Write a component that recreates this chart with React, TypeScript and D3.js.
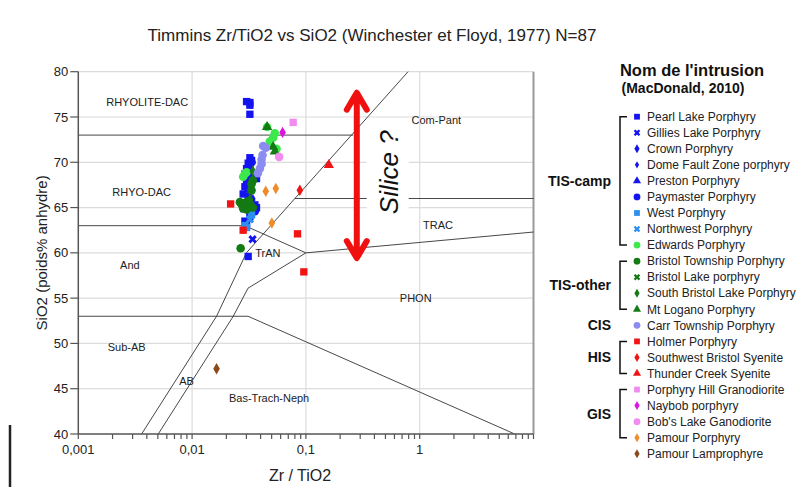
import * as d3 from 'd3';

const W = 807;
const H = 487;
const FONT = 'Liberation Sans, Arial, sans-serif';

// axis
const xDomain: [number, number] = [0.001, 10];
const yDomain: [number, number] = [40, 80];
const xTickLabels = ['0,001', '0,01', '0,1', '1'];
const xTickValues = [0.001, 0.01, 0.1, 1];
const yTickValues = [40, 45, 50, 55, 60, 65, 70, 75, 80];
const xGridValues = [0.01, 0.1, 1];

// Winchester & Floyd field boundaries (Zr/TiO2, SiO2)
const lineRhyolite: [number, number][] = [[0.001, 73], [0.26, 73]];
const lineMain: [number, number][] = [[0.79, 80], [0.03, 60], [0.0164, 53], [0.0036, 40]];
const lineTrac: [number, number][] = [[0.08, 66], [10, 66]];
const lineAndesite: [number, number][] = [[0.001, 63], [0.029, 63], [0.1, 60], [10, 62.3]];
const lineTrAN: [number, number][] = [[0.1, 60], [0.031, 56.1], [0.023, 53], [0.00504, 40]];
const lineBasalt: [number, number][] = [[0.001, 53], [0.031, 53], [6.84, 40]];
const boundaries = [lineRhyolite, lineMain, lineTrac, lineAndesite, lineTrAN, lineBasalt];

const fieldLabels: [number, number, string][] = [
  [0.00403, 76.6, 'RHYOLITE-DAC'],
  [0.0036, 66.7, 'RHYO-DAC'],
  [0.00284, 58.6, 'And'],
  [0.00266, 49.6, 'Sub-AB'],
  [0.00895, 45.8, 'AB'],
  [0.0475, 44.0, 'Bas-Trach-Neph'],
  [0.923, 55.0, 'PHON'],
  [0.0463, 60.0, 'TrAN'],
  [1.45, 63.1, 'TRAC'],
  [1.4, 74.6, 'Com-Pant'],
];

// samples
const pearlLake: [number, number][] = [
  [0.0301, 76.7], [0.0322, 76.6], [0.0322, 76.3], [0.0322, 75.3],
  [0.0322, 70.5], [0.0333, 70.2], [0.0311, 69.9], [0.0322, 69.6], [0.0301, 69.3],
  [0.0311, 69.0], [0.0291, 68.7], [0.0333, 68.5], [0.0368, 68.2], [0.0301, 68.0],
  [0.0322, 67.6], [0.0291, 67.3], [0.0281, 66.5], [0.0311, 66.2], [0.0356, 65.3],
  [0.0368, 65.0], [0.0322, 64.0], [0.0291, 63.5], [0.0301, 63.1], [0.0311, 59.6],
];
const gilliesLake: [number, number][] = [[0.034, 61.5], [0.0333, 65.6]];
const crown: [number, number][] = [[0.0333, 67.9], [0.0301, 65.0], [0.0322, 66.8]];
const domeFault: [number, number][] = [[0.0311, 68.3], [0.0342, 66.0]];
const preston: [number, number][] = [[0.0322, 69.4], [0.0291, 64.8]];
const paymaster: [number, number][] = [[0.0333, 70.0], [0.0311, 67.1], [0.0356, 64.6]];
const westPorph: [number, number][] = [[0.0291, 63.0], [0.0301, 62.8], [0.0333, 64.2]];
const northwest: [number, number][] = [[0.0322, 63.7]];
const edwards: [number, number][] = [
  [0.0533, 73.2], [0.0515, 72.7], [0.0482, 72.3], [0.0456, 73.9], [0.0552, 71.5],
  [0.0291, 68.7], [0.0281, 68.4], [0.0301, 68.9],
];
const bristolTownship: [number, number][] = [
  [0.0263, 65.6], [0.0274, 65.3], [0.0291, 65.5], [0.0301, 65.2], [0.0311, 65.7],
  [0.0322, 65.4], [0.0281, 64.9], [0.0301, 64.8], [0.0342, 65.0], [0.0333, 66.9],
  [0.0342, 68.0], [0.0333, 67.6], [0.0267, 60.5],
];
const bristolLake: [number, number][] = [[0.0311, 65.0]];
const southBristol: [number, number][] = [[0.0342, 69.0], [0.0322, 65.9]];
const mtLogano: [number, number][] = [[0.0456, 73.9], [0.0533, 71.2], [0.0515, 71.7]];
const carrTownship: [number, number][] = [
  [0.0421, 71.8], [0.0444, 71.6], [0.0416, 70.8], [0.0408, 70.3], [0.0408, 69.8],
  [0.0394, 69.3], [0.0378, 68.8],
];
const holmer: [number, number][] = [[0.0218, 65.4], [0.0281, 62.5], [0.0844, 62.1], [0.0959, 57.9]];
const swBristol: [number, number][] = [[0.0885, 66.9]];
const thunderCreek: [number, number][] = [[0.159, 69.7]];
const porphyryHill: [number, number][] = [[0.0773, 74.4]];
const naybob: [number, number][] = [[0.0624, 73.3]];
const bobsLake: [number, number][] = [[0.0582, 70.6]];
const pamourPorph: [number, number][] = [[0.0444, 66.8], [0.0544, 67.1], [0.0502, 63.3]];
const pamourLamp: [number, number][] = [[0.0164, 47.2]];

type Shape = 'square' | 'x' | 'diamond' | 'star' | 'triangle' | 'circle';
interface Series {
  name: string;
  color: string;
  shape: Shape;
  points: [number, number][];
}

const series: Series[] = [
  { name: 'Pearl Lake Porphyry', color: '#1414f0', shape: 'square', points: pearlLake },
  { name: 'Gillies Lake Porphyry', color: '#1414f0', shape: 'x', points: gilliesLake },
  { name: 'Crown Porphyry', color: '#1414f0', shape: 'diamond', points: crown },
  { name: 'Dome Fault Zone porphyry', color: '#1414f0', shape: 'star', points: domeFault },
  { name: 'Preston Porphyry', color: '#1414f0', shape: 'triangle', points: preston },
  { name: 'Paymaster Porphyry', color: '#1414f0', shape: 'circle', points: paymaster },
  { name: 'West Porphyry', color: '#2e8ff0', shape: 'square', points: westPorph },
  { name: 'Northwest Porphyry', color: '#2e8ff0', shape: 'x', points: northwest },
  { name: 'Edwards Porphyry', color: '#3ce84a', shape: 'circle', points: edwards },
  { name: 'Bristol Township Porphyry', color: '#147a14', shape: 'circle', points: bristolTownship },
  { name: 'Bristol Lake porphyry', color: '#147a14', shape: 'x', points: bristolLake },
  { name: 'South Bristol Lake Porphyry', color: '#147a14', shape: 'diamond', points: southBristol },
  { name: 'Mt Logano Porphyry', color: '#147a14', shape: 'triangle', points: mtLogano },
  { name: 'Carr Township Porphyry', color: '#8c8cf0', shape: 'circle', points: carrTownship },
  { name: 'Holmer Porphyry', color: '#f01414', shape: 'square', points: holmer },
  { name: 'Southwest Bristol Syenite', color: '#f01414', shape: 'diamond', points: swBristol },
  { name: 'Thunder Creek Syenite', color: '#f01414', shape: 'triangle', points: thunderCreek },
  { name: 'Porphyry Hill Granodiorite', color: '#f08cf0', shape: 'square', points: porphyryHill },
  { name: 'Naybob porphyry', color: '#e014e0', shape: 'diamond', points: naybob },
  { name: "Bob's Lake Ganodiorite", color: '#f08cf0', shape: 'circle', points: bobsLake },
  { name: 'Pamour Porphyry', color: '#f08c28', shape: 'diamond', points: pamourPorph },
  { name: 'Pamour Lamprophyre', color: '#8b4a1c', shape: 'diamond', points: pamourLamp },
];

// legend groups: label, first index, last index
const groups: [string, number, number][] = [
  ['TIS-camp', 0, 8],
  ['TIS-other', 9, 12],
  ['CIS', 13, 13],
  ['HIS', 14, 16],
  ['GIS', 17, 20],
];

// annotation (data space)
const arrowX = 0.28;
const arrowTop = 77.9;
const arrowBottom = 59.2;
const siliceX = 0.534;
const siliceY = 68.9;

const symbolTypes: Record<Shape, d3.SymbolType> = {
  square: d3.symbolSquare,
  x: d3.symbolCross,
  diamond: d3.symbolDiamond,
  star: d3.symbolDiamond,
  triangle: d3.symbolTriangle,
  circle: d3.symbolCircle,
};
const symbolSize: Record<Shape, number> = {
  square: 54, x: 44, diamond: 38, star: 24, triangle: 46, circle: 58,
};

const symbolPath = (shape: Shape, scale: number) =>
  d3.symbol().type(symbolTypes[shape]).size(symbolSize[shape] * scale)() as string;

export default function App() {
  const x = d3.scaleLog().domain(xDomain).range([78.3, 533.5]);
  const y = d3.scaleLinear().domain(yDomain).range([434, 71.7]);
  const line = d3
    .line<[number, number]>()
    .x((d) => x(d[0]))
    .y((d) => y(d[1]));

  const minorTicks = x.ticks();
  const legendTop = 116.7;
  const legendStep = 16.05;
  const ax = x(arrowX);
  const ay0 = y(arrowTop);
  const ay1 = y(arrowBottom);

  return (
    <div style={{ position: 'absolute', left: 0, top: 0 }}>
      <svg width={W} height={H} style={{ display: 'block', background: '#fff' }} fontFamily={FONT}>
        <text x={372} y={41} textAnchor="middle" fontSize={17} fill="#222">
          Timmins Zr/TiO2 vs SiO2 (Winchester et Floyd, 1977) N=87
        </text>

        {/* page frame edge */}
        <line x1={10} x2={10} y1={425} y2={H} stroke="#222" strokeWidth={2.5} />

        {/* grid */}
        {yTickValues.slice(1).map((v) => (
          <line key={'gy' + v} x1={x(xDomain[0])} x2={x(xDomain[1])} y1={y(v)} y2={y(v)} stroke="#dcdcdc" strokeWidth={1.2} />
        ))}
        {xGridValues.map((v) => (
          <line key={'gx' + v} x1={x(v)} x2={x(v)} y1={y(40)} y2={y(80)} stroke="#dcdcdc" strokeWidth={1.2} />
        ))}
        <line x1={x(10)} x2={x(10)} y1={y(80)} y2={y(40)} stroke="#9a9a9a" strokeWidth={2} />

        {/* field boundaries */}
        {boundaries.map((b, i) => (
          <path key={'b' + i} d={line(b) as string} fill="none" stroke="#333" strokeWidth={0.9} />
        ))}
        {fieldLabels.map(([fx, fy, t]) => (
          <text key={t} x={x(fx)} y={y(fy)} dy="0.35em" textAnchor="middle" fontSize={11} fill="#222">
            {t}
          </text>
        ))}

        {/* axes */}
        <line x1={x(xDomain[0])} x2={x(xDomain[0])} y1={y(80)} y2={y(40)} stroke="#555" strokeWidth={1.5} />
        <line x1={x(xDomain[0])} x2={x(xDomain[1])} y1={y(40)} y2={y(40)} stroke="#555" strokeWidth={1.5} />
        {yTickValues.map((v) => (
          <g key={'yt' + v}>
            <line x1={x(xDomain[0]) - 8} x2={x(xDomain[0])} y1={y(v)} y2={y(v)} stroke="#555" strokeWidth={1.2} />
            <text x={x(xDomain[0]) - 10} y={y(v)} dy="0.35em" textAnchor="end" fontSize={13} fill="#222">
              {v}
            </text>
          </g>
        ))}
        {minorTicks.map((v, i) => (
          <line key={'xt' + i} x1={x(v)} x2={x(v)} y1={y(40)} y2={y(40) + 5} stroke="#555" strokeWidth={1.2} />
        ))}
        {xTickValues.map((v, i) => (
          <text key={'xl' + v} x={x(v)} y={y(40) + 20} textAnchor="middle" fontSize={13} fill="#222">
            {xTickLabels[i]}
          </text>
        ))}
        <text x={300} y={481} textAnchor="middle" fontSize={16} fill="#222">
          Zr / TiO2
        </text>
        <text transform={`translate(47,${y(60)}) rotate(-90)`} textAnchor="middle" fontSize={15} fill="#222">
          SiO2 (poids% anhydre)
        </text>

        {/* silice annotation */}
        <rect x={x(siliceX) - 22} y={y(siliceY) - 48} width={42} height={96} fill="#fff" />
        <text
          transform={`translate(${x(siliceX) + 9},${y(siliceY)}) rotate(-90)`}
          textAnchor="middle"
          fontSize={26}
          fontStyle="italic"
          fill="#111"
        >
          Silice ?
        </text>
        <path
          d={`M${ax},${ay0 + 3}L${ax},${ay1 - 3}M${ax - 10},${ay0 + 19}L${ax},${ay0 + 2}L${ax + 10},${ay0 + 19}M${ax - 10},${ay1 - 19}L${ax},${ay1 - 2}L${ax + 10},${ay1 - 19}`}
          fill="none"
          stroke="#f01010"
          strokeWidth={6}
          strokeLinecap="round"
          strokeLinejoin="round"
        />

        {/* samples */}
        {series.map((s) =>
          s.points.map((p, j) => (
            <path
              key={s.name + j}
              d={symbolPath(s.shape, 1)}
              transform={`translate(${x(p[0])},${y(p[1])})${s.shape === 'x' ? ' rotate(45)' : ''}`}
              fill={s.color}
            />
          )),
        )}

        {/* legend */}
        <text x={692} y={76} textAnchor="middle" fontSize={16.5} fontWeight="bold" fill="#111">
          Nom de l'intrusion
        </text>
        <text x={683} y={93} textAnchor="middle" fontSize={14} fontWeight="bold" fill="#111">
          (MacDonald, 2010)
        </text>
        {series.map((s, i) => {
          const ly = legendTop + i * legendStep;
          return (
            <g key={'lg' + i}>
              <path
                d={symbolPath(s.shape, 0.62)}
                transform={`translate(637,${ly})${s.shape === 'x' ? ' rotate(45)' : ''}`}
                fill={s.color}
              />
              <text x={647} y={ly} dy="0.35em" fontSize={12} fill="#222">
                {s.name}
              </text>
            </g>
          );
        })}
        {groups.map(([label, a, b]) => {
          const y0 = legendTop + a * legendStep;
          const y1 = legendTop + b * legendStep;
          return (
            <g key={label}>
              {b > a && (
                <path d={`M627,${y0}H620V${y1}H627`} fill="none" stroke="#111" strokeWidth={1.5} />
              )}
              <text x={611} y={(y0 + y1) / 2} dy="0.35em" textAnchor="end" fontSize={14} fontWeight="bold" fill="#111">
                {label}
              </text>
            </g>
          );
        })}
      </svg>
    </div>
  );
}
